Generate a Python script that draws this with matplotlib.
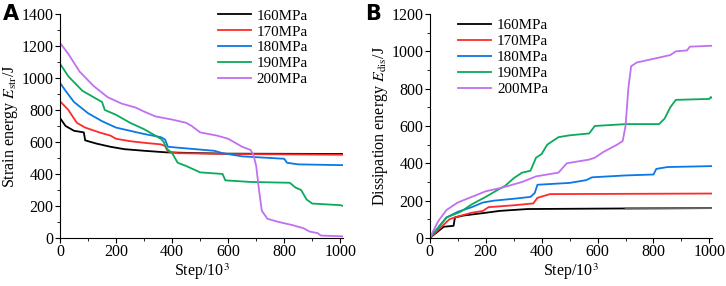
import matplotlib
matplotlib.use('Agg')
import matplotlib.pyplot as plt
from matplotlib.ticker import MultipleLocator

plt.rcParams['font.family'] = 'Liberation Serif'
plt.rcParams['font.size'] = 11
plt.rcParams['mathtext.fontset'] = 'stix'

labels = ['160MPa', '170MPa', '180MPa', '190MPa', '200MPa']
colors = ['#000000', '#ff2a2a', '#0a78e6', '#0aaa5a', '#c070f0']

# panel A: strain energy (step/10^3, J)
a160_x = [0, 20, 50, 85, 90, 130, 180, 230, 300, 380, 500, 600, 1010]
a160_y = [750, 700, 670, 660, 610, 590, 570, 555, 545, 535, 530, 527, 525]
a170_x = [0, 30, 60, 90, 140, 180, 200, 250, 300, 360, 375, 385, 420, 600, 1010]
a170_y = [855, 800, 720, 690, 660, 640, 620, 605, 595, 585, 575, 540, 530, 525, 520]
a180_x = [0, 20, 50, 100, 150, 200, 250, 300, 360, 375, 385, 450, 550, 580, 650, 750, 800, 810, 850, 1010]
a180_y = [970, 920, 850, 780, 730, 690, 670, 650, 630, 615, 570, 560, 545, 530, 510, 500, 495, 470, 460, 455]
a190_x = [0, 30, 80, 120, 150, 160, 200, 250, 300, 330, 360, 370, 380, 400, 420, 450, 500, 580, 590, 680,
          820, 840, 860, 880, 900, 950, 1000, 1010]
a190_y = [1090, 1010, 920, 880, 850, 800, 770, 720, 680, 650, 620, 600, 560, 530, 470, 450, 410, 400, 360, 350,
          345, 315, 300, 240, 215, 210, 205, 200]
a200_x = [0, 30, 70, 120, 170, 220, 270, 300, 340, 400, 450, 470, 500, 560, 600, 620, 650, 680, 690, 700,
          710, 720, 740, 780, 830, 870, 890, 920, 930, 1010]
a200_y = [1220, 1150, 1040, 950, 880, 840, 815, 790, 760, 740, 720, 700, 660, 640, 620, 600, 570, 550, 520, 450,
          300, 170, 120, 100, 80, 60, 40, 30, 15, 10]

# panel B: dissipation energy
b160_x = [0, 50, 85, 90, 120, 200, 250, 350, 700, 1010]
b160_y = [0, 60, 65, 110, 120, 135, 145, 155, 158, 160]
b170_x = [0, 70, 100, 150, 190, 210, 300, 370, 385, 430, 1010]
b170_y = [0, 100, 115, 135, 145, 165, 175, 185, 215, 235, 238]
b180_x = [0, 60, 100, 150, 190, 230, 300, 360, 375, 385, 500, 560, 580, 700, 800, 810, 850, 1010]
b180_y = [0, 110, 140, 165, 190, 200, 210, 220, 240, 285, 295, 310, 325, 335, 340, 370, 380, 385]
b190_x = [0, 60, 110, 150, 200, 240, 270, 300, 330, 360, 380, 400, 420, 460, 500, 570, 590, 700, 820, 840,
          860, 880, 1000, 1005, 1010]
b190_y = [0, 110, 140, 180, 220, 255, 280, 320, 350, 360, 430, 450, 500, 540, 550, 560, 600, 610, 610, 640,
          700, 740, 745, 755, 750]
b200_x = [0, 30, 60, 100, 150, 200, 260, 330, 380, 460, 490, 570, 590, 620, 670, 690, 700, 710, 720, 740,
          800, 860, 880, 920, 930, 1010]
b200_y = [0, 90, 150, 190, 220, 250, 270, 300, 330, 350, 400, 420, 430, 460, 500, 520, 600, 800, 920, 940,
          960, 980, 1000, 1005, 1025, 1030]

seriesA = [(a160_x, a160_y), (a170_x, a170_y), (a180_x, a180_y), (a190_x, a190_y), (a200_x, a200_y)]
seriesB = [(b160_x, b160_y), (b170_x, b170_y), (b180_x, b180_y), (b190_x, b190_y), (b200_x, b200_y)]

fig = plt.figure(figsize=(7.26, 2.86), dpi=100)
axA = fig.add_axes([0.0826, 0.168, 0.39, 0.783])
axB = fig.add_axes([0.592, 0.168, 0.389, 0.783])

for ax, series, ymax in [(axA, seriesA, 1400), (axB, seriesB, 1200)]:
    for (x, y), c, l in zip(series, colors, labels):
        ax.plot(x, y, color=c, lw=1.3, label=l)
    ax.set_xlim(0, 1010)
    ax.set_ylim(0, ymax)
    ax.spines['top'].set_visible(False)
    ax.spines['right'].set_visible(False)
    ax.xaxis.set_major_locator(MultipleLocator(200))
    ax.xaxis.set_minor_locator(MultipleLocator(100))
    ax.yaxis.set_major_locator(MultipleLocator(200))
    ax.yaxis.set_minor_locator(MultipleLocator(100))
    ax.tick_params(which='major', length=3.5, direction='out', labelsize=11.5, pad=1)
    ax.tick_params(which='minor', length=2, direction='out')
    ax.set_xlabel('Step/10$^3$', fontsize=11.5, labelpad=1)

axB.plot(b160_x[-2:], b160_y[-2:], color='#666666', lw=1.3)

axA.set_ylabel('Strain energy $\\mathit{E}_{\\mathrm{str}}$/J', fontsize=11.5, labelpad=1)
axB.set_ylabel('Dissipation energy $\\mathit{E}_{\\mathrm{dis}}$/J', fontsize=11.5, labelpad=1)

leg_kw = dict(loc='upper left', frameon=False, fontsize=10.8, handlelength=2.2,
              handletextpad=0.4, labelspacing=0.16, borderpad=0, borderaxespad=0,
              bbox_transform=fig.transFigure)
axA.legend(bbox_to_anchor=(0.300, 0.968), **leg_kw)
axB.legend(bbox_to_anchor=(0.631, 0.934), **leg_kw)

fig.text(0.004, 0.985, 'A', fontsize=15, fontweight='bold', family='DejaVu Sans', va='top')
fig.text(0.503, 0.985, 'B', fontsize=15, fontweight='bold', family='DejaVu Sans', va='top')

fig.savefig('out.png', dpi=100)
